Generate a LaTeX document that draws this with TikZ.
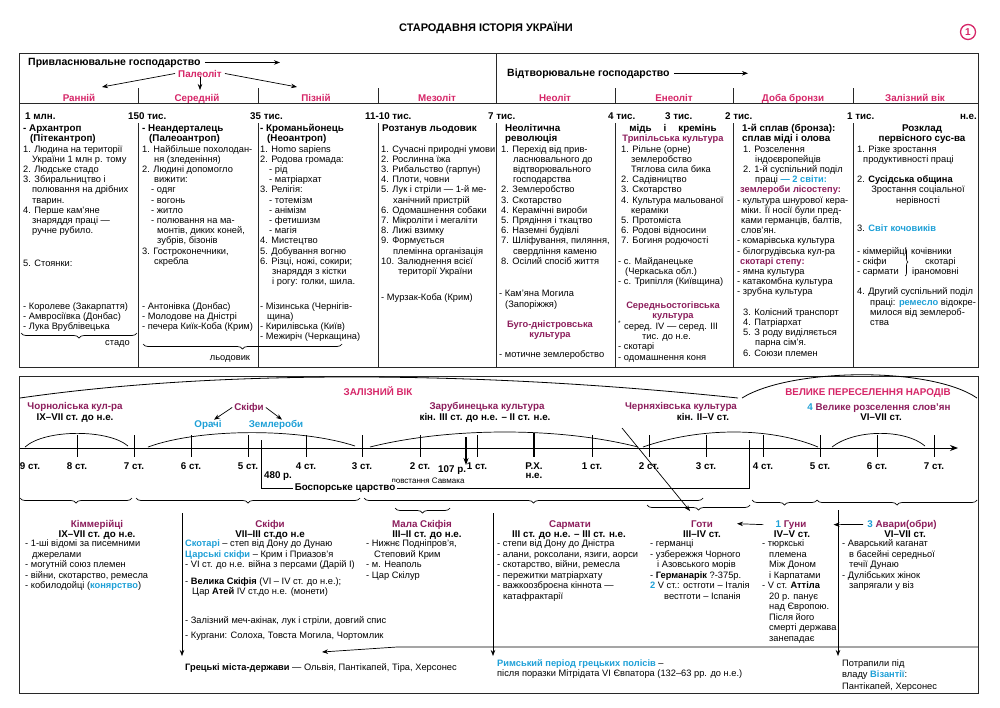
\documentclass[tikz,border=0pt]{standalone}
\usepackage{fontspec}
\setmainfont{Liberation Sans}
\usetikzlibrary{arrows.meta,decorations.pathreplacing}
\definecolor{pinkc}{RGB}{214,38,104}
\definecolor{plumc}{RGB}{140,30,92}
\definecolor{cyanc}{RGB}{30,160,215}
\definecolor{linec}{RGB}{40,40,40}
\newcommand\bt{\fontsize{9.3}{10.2}\selectfont}
\newcommand\bbt{\fontsize{9.3}{10.5}\selectfont}
\newcommand\hd{\fontsize{9.8}{10.2}\selectfont\bfseries}
\newcommand\sm{\fontsize{8}{9}\selectfont}
\newcommand\st{\rule{0pt}{7.2pt}}
\newcommand\hs[1]{\hspace*{#1pt}}
\newcommand\cy[1]{\textcolor{cyanc}{\bfseries #1}}
\newcommand\pl[1]{\textcolor{plumc}{\bfseries #1}}
\newcommand\Ty[1]{124.2+10.2*#1}
\newcommand\By[1]{539.2+10.5*#1}
\begin{document}
\begin{tikzpicture}[x=1pt,y=-1pt,
 txt/.style={anchor=north west,inner sep=0pt,align=left,font=\bt},
 ctxt/.style={anchor=north,inner sep=0pt,align=center,font=\bt},
 btxt/.style={anchor=north west,inner sep=0pt,align=left,font=\bbt},
 frame/.style={draw=linec,line width=0.8pt},
 sep/.style={draw=linec,line width=0.7pt},
 per/.style={anchor=base,inner sep=0pt,font=\hd,text=pinkc},
 dat/.style={anchor=base west,inner sep=0pt,font=\hd},
 arr/.style={-{Stealth[length=6pt,width=4.5pt]},line width=0.7pt},
 tk/.style={line width=0.7pt},
 brc/.style={decorate,decoration={brace,mirror,amplitude=5pt},line width=0.7pt},
 tl/.style={anchor=base,inner sep=0pt,font=\hd,text=plumc},
 tlb/.style={anchor=base,inner sep=0pt,font=\hd},
 tc/.style={anchor=base,inner sep=0pt,font=\hd,text=cyanc},
 ticklab/.style={anchor=base,inner sep=0pt,font=\hd},
]
\useasboundingbox (0,0) rectangle (1000,707);
\fill[white] (0,0) rectangle (1000,707);

% ---------- title ----------
\node[font=\fontsize{11}{12}\selectfont\bfseries] (title) at (486,28) {СТАРОДАВНЯ ІСТОРІЯ УКРАЇНИ};
\node[circle,draw=pinkc,line width=1.3pt,text=pinkc,font=\fontsize{10}{10}\selectfont\bfseries,inner sep=0pt,minimum size=15pt] (num) at (968,32) {1};

% ---------- top table frame ----------
\draw[frame] (19,53) rectangle (978,367);
\draw[sep] (19,103) -- (978,103);
\draw[sep] (496,53) -- (496,103);
\foreach \x in {138,258,378,615,733,853} \draw[sep] (\x,88) -- (\x,103);
\foreach \x in {138,258,378,496,615,733,853} \draw[sep] (\x,123) -- (\x,367);

% header row
\node[anchor=base west,inner sep=0pt,font=\fontsize{10.5}{12}\selectfont\bfseries] (hA) at (28,65) {Привласнювальне господарство};
\coordinate (hAe) at (280,61);
\draw[arr] ([xshift=4pt]hA.east) -- (hA.east -| hAe);
\node[anchor=base west,inner sep=0pt,font=\fontsize{10.5}{12}\selectfont\bfseries] (hB) at (507,76) {Відтворювальне господарство};
\coordinate (hBe) at (748,72);
\draw[arr] ([xshift=4pt]hB.east) -- (hB.east -| hBe);

\node[per] (pal) at (200,77) {Палеоліт};
\coordinate (pL) at (102,87);
\coordinate (pM) at (200,90);
\coordinate (pR) at (297,87);
\draw[arr] ([xshift=-3pt]pal.west) -- (pL);
\draw[arr] (pal.south) -- (pM);
\draw[arr] ([xshift=3pt]pal.east) -- (pR);

% periods
\node[per] (p1) at (79,101) {Ранній};
\node[per] (p2) at (197,101) {Середній};
\node[per] (p3) at (316,101) {Пізній};
\node[per] (p4) at (437,101) {Мезоліт};
\node[per] (p5) at (555,101) {Неоліт};
\node[per] (p6) at (674,101) {Енеоліт};
\node[per] (p7) at (793,101) {Доба бронзи};
\node[per] (p8) at (915,101) {Залізний вік};

% dates
\node[dat] (d1) at (25,119) {1 млн.};
\node[dat] (d2) at (128,119) {150 тис.};
\node[dat] (d3) at (250,119) {35 тис.};
\node[dat] (d4) at (365,119) {11-10 тис.};
\node[dat] (d5) at (488,119) {7 тис.};
\node[dat] (d6) at (608,119) {4 тис.};
\node[dat] (d7) at (665,119) {3 тис.};
\node[dat] (d8) at (725,119) {2 тис.};
\node[dat] (d9) at (847,119) {1 тис.};
\node[dat,anchor=base east] (d10) at (977,119) {н.е.};

% column 1
\node[txt] (c1a) at (23,\Ty{0}) {\st{\hd - Архантроп}\\{\hd\hs{7}(Пітекантроп)}\\1. Людина на території\\\hs{9}України 1 млн р. тому\\2. Людське стадо\\3. Збиральництво і\\\hs{9}полювання на дрібних\\\hs{9}тварин.\\4. Перше кам’яне\\\hs{9}знаряддя праці —\\\hs{9}ручне рубило.};
\node[txt] (c1b) at (23,\Ty{13.2}) {\st 5. Стоянки:};
\node[txt] (c1c) at (23,\Ty{17.4}) {\st- Королеве (Закарпаття)\\- Амвросіївка (Донбас)\\- Лука Врублівецька};
\draw[brc] (21,333) -- (137,333);
\node[anchor=base east,inner sep=0pt,font=\bt] (stado) at (130,345) {стадо};

% column 2
\node[txt] (c2a) at (142,\Ty{0}) {\st{\hd - Неандерталець}\\{\hd\hs{7}(Палеоантроп)}\\1. Найбільше похолодан-\\\hs{12}ня (зледеніння)\\2. Людині допомогло\\\hs{12}вижити:\\\hs{9}- одяг\\\hs{9}- вогонь\\\hs{9}- житло\\\hs{9}- полювання на ма-\\\hs{15}монтів, диких коней,\\\hs{15}зубрів, бізонів\\3. Гостроконечники,\\\hs{12}скребла};
\node[txt] (c2b) at (142,\Ty{17.4}) {\st- Антонівка (Донбас)\\- Молодове на Дністрі\\- печера Киїк-Коба (Крим)};
\draw[brc] (143,344) -- (342,344);
\node[anchor=base,inner sep=0pt,font=\bt] (lod) at (230,360) {льодовик};

% column 3
\node[txt] (c3a) at (260,\Ty{0}) {\st{\hd - Кроманьйонець}\\{\hd\hs{7}(Неоантроп)}\\1. Homo sapiens\\2. Родова громада:\\\hs{9}- рід\\\hs{9}- матріархат\\3. Релігія:\\\hs{9}- тотемізм\\\hs{9}- анімізм\\\hs{9}- фетишизм\\\hs{9}- магія\\4. Мистецтво\\5. Добування вогню\\6. Різці, ножі, сокири;\\\hs{12}знаряддя з кістки\\\hs{12}і рогу: голки, шила.};
\node[txt] (c3b) at (260,\Ty{17.4}) {\st- Мізинська (Чернігів-\\\hs{7}щина)\\- Кирилівська (Київ)\\- Межиріч (Черкащина)};

% column 4
\node[txt] (c4a) at (382,\Ty{0}) {\st{\hd Розтанув льодовик}};
\node[txt] (c4b) at (381,\Ty{2}) {\st 1. Сучасні природні умови\\2. Рослинна їжа\\3. Рибальство (гарпун)\\4. Плоти, човни\\5. Лук і стріли — 1-й ме-\\\hs{12}ханічний пристрій\\6. Одомашнення собаки\\7. Мікроліти і мегаліти\\8. Лижі взимку\\9. Формується\\\hs{12}племінна організація\\10. Залюднення всієї\\\hs{17}території України};
\node[txt] (c4c) at (381,\Ty{16.6}) {\st- Мурзак-Коба (Крим)};

% column 5
\node[txt] (c5a) at (505,\Ty{0}) {\st{\hd Неолітична}\\{\hd революція}};
\node[txt] (c5b) at (501,\Ty{2}) {\st 1. Перехід від прив-\\\hs{12}ласнювального до\\\hs{12}відтворювального\\\hs{12}господарства\\2. Землеробство\\3. Скотарство\\4. Керамічні вироби\\5. Прядіння і ткацтво\\6. Наземні будівлі\\7. Шліфування, пиляння,\\\hs{12}свердління каменю\\8. Осілий спосіб життя};
\node[txt] (c5c) at (499,\Ty{16.2}) {\st- Кам’яна Могила\\\hs{6}(Запоріжжя)};
\node[ctxt] (c5d) at (550,\Ty{19.2}) {\st\pl{Буго-дністровська}\\\pl{культура}};
\node[txt] (c5e) at (499,\Ty{22.1}) {\st- мотичне землеробство};

% column 6
\node[ctxt] (c6a) at (673,\Ty{0}) {\st{\hd мідь\hspace{12pt}і\hspace{12pt}кремінь}\\\pl{Трипільська культура}};
\node[txt] (c6b) at (618,\Ty{2}) {\st\hs{3}1. Рільне (орне)\\\hs{13}землеробство\\\hs{13}Тяглова сила бика\\\hs{3}2. Садівництво\\\hs{3}3. Скотарство\\\hs{3}4. Культура мальованої\\\hs{13}кераміки\\\hs{3}5. Протоміста\\\hs{3}6. Родові відносини\\\hs{3}7. Богиня родючості};
\node[txt] (c6c) at (618,\Ty{13}) {\st- с. Майданецьке\\\hs{7}(Черкаська обл.)\\- с. Трипілля (Київщина)};
\node[ctxt] (c6d) at (673,\Ty{17.3}) {\st\pl{Середньостогівська}\\\pl{культура}};
\node[txt] (c6e) at (618,\Ty{19.3}) {\st\textsuperscript{*}\hs{3}серед. IV — серед. III\\\hs{24}тис. до н.е.\\- скотарі\\- одомашнення коня};

% column 7
\node[txt] (c7a) at (737,\Ty{0}) {\st\hs{5}{\hd 1-й сплав (бронза):}\\\hs{5}{\hd сплав міді і олова}\\\hs{6}1. Розселення\\\hs{18}індоєвропейців\\\hs{6}2. 1-й суспільний поділ\\\hs{18}праці \cy{— 2 світи:}\\\hs{3}\pl{землероби лісостепу:}\\- культура шнурової кера-\\\hs{4}міки. Її носії були пред-\\\hs{4}ками германців, балтів,\\\hs{4}слов’ян.\\- комарівська культура\\- білогрудівська кул-ра\\\hs{3}\pl{скотарі степу:}\\- ямна культура\\- катакомбна культура\\- зрубна культура};
\node[txt] (c7b) at (737,\Ty{18}) {\st\hs{6}3. Колісний транспорт\\\hs{6}4. Патріархат\\\hs{6}5. З роду виділяється\\\hs{18}парна сім’я.\\\hs{6}6. Союзи племен};

% column 8
\node[ctxt] (c8a) at (922,\Ty{0}) {\st{\hd Розклад}\\{\hd первісного сус-ва}};
\node[txt] (c8b) at (857,\Ty{2}) {\st 1. Різке зростання\\\hs{6}продуктивності праці};
\node[txt] (c8c) at (857,\Ty{5}) {\st 2. {\bfseries Сусідська община}};
\node[ctxt] (c8d) at (918,\Ty{6}) {\st Зростання соціальної\\нерівності};
\node[txt] (c8e) at (857,\Ty{9.8}) {\st 3. \cy{Світ кочовиків}};
\node[txt] (c8f) at (857,\Ty{12}) {\st- кіммерійці\\- скіфи\\- сармати};
\node[txt] (c8g) at (911,\Ty{12}) {\st кочівники};
\node[txt] (c8h) at (925,\Ty{13}) {\st скотарі};
\node[txt] (c8i) at (912,\Ty{14}) {\st іраномовні};
\draw[decorate,decoration={brace,amplitude=3pt},line width=0.6pt] (905,248) -- (905,276);
\node[txt] (c8j) at (857,\Ty{16}) {\st 4. Другий суспільний поділ\\\hs{13}праці: \cy{ремесло} відокре-\\\hs{13}милося від землероб-\\\hs{13}ства};

% ---------- bottom frame ----------
\draw[frame] (19,376) rectangle (978,693);
\draw[line width=0.8pt] (20,398) .. controls (200,372) and (450,368) .. (738,398);
\draw[line width=0.8pt] (742,398) .. controls (790,368) and (930,366) .. (977,398);
\node[anchor=base,inner sep=0pt,font=\hd,text=pinkc] (zv) at (378,395) {ЗАЛІЗНИЙ ВІК};
\node[anchor=base,inner sep=0pt,font=\hd,text=pinkc] (vpn) at (868,395) {ВЕЛИКЕ ПЕРЕСЕЛЕННЯ НАРОДІВ};

% timeline headings
\node[tl] (chorn) at (75,409) {Чорноліська кул-ра};
\node[tlb] (chornd) at (75,420) {IX–VII ст. до н.е.};
\node[tl] (skif) at (249,410) {Скіфи};
\node[tc] (orachi) at (208,427) {Орачі};
\node[tc] (zeml) at (276,427) {Землероби};
\draw[arr] ([xshift=-2pt]skif.west) -- ([xshift=6pt]orachi.north);
\draw[arr] ([xshift=2pt]skif.east) -- ([xshift=6pt]zeml.north);
\node[tl] (zar) at (487,409) {Зарубинецька культура};
\node[tlb] (zard) at (485,420) {кін. III ст. до н.е. – II ст. н.е.};
\node[tl] (chern) at (681,409) {Черняхівська культура};
\node[tlb] (chernd) at (703,420) {кін. II–V ст.};
\node[tl] (slov) at (879,410) {\textcolor{cyanc}{4} Велике розселення слов’ян};
\node[tlb] (slovd) at (881,420) {VI–VII ст.};

% arcs over the axis
\draw[tk] (25,447) .. controls (45,429) and (108,429) .. (128,446);
\draw[tk] (148,447) .. controls (200,428) and (300,428) .. (355,446);
\draw[tk] (370,447) .. controls (450,427) and (560,427) .. (638,447);
\draw[tk] (643,447) .. controls (700,427) and (770,427) .. (818,447);
\draw[tk] (832,447) .. controls (855,429) and (905,429) .. (925,446);

% axis
\coordinate (ax0) at (20,448);
\coordinate (ax1) at (958,448);
\draw[-{Stealth[length=8pt,width=6pt]},line width=0.8pt] (ax0) -- (ax1);
\foreach \x/\lab [count=\k] in {77/8,134/7,191/6,248/5,306/4,362/3,420/2,477/1,592/1,649/2,706/3,763/4,820/5,877/6,934/7} {
  \draw[tk] (\x,435) -- (\x,457);
  \node[ticklab] (tk\k) at (\x,469) {\lab\ ст.};
}
\node[ticklab] (tk0) at (30,469) {9 ст.};
\draw[line width=2pt] (534,433) -- (534,457);
\node[ticklab] (rx) at (534,469) {Р.Х.};
\node[ticklab] (rxne) at (534,478) {н.е.};
\node[anchor=base west,inner sep=0pt,font=\hd] (y107) at (438,472) {107 р.};
\coordinate (a107a) at (466,437);
\coordinate (a107b) at (466,465);
\draw[-{Stealth[length=7pt,width=5pt]},line width=1.2pt] (a107a) -- (a107b);
\node[anchor=base,inner sep=0pt,font=\sm] (savm) at (428,483) {повстання Савмака};
\node[anchor=base,inner sep=0pt,font=\hd] (y480) at (278,478) {480 р.};
\draw[line width=0.8pt] (261,440) -- (261,488) -- (749,488) -- (749,440);
\node[fill=white,inner sep=1.5pt,font=\hd] (bosp) at (345,488) {Боспорське царство};
\coordinate (dg0) at (622,428);
\coordinate (dg1) at (690,511);
\draw[arr] (dg0) -- (dg1);

% braces
\draw[brc] (20,498) -- (132,498);
\draw[brc] (136,498) -- (360,498);
\draw[brc] (364,498) -- (703,498);
\draw[brc] (395,508) -- (450,508);
\draw[brc] (647,505) -- (750,505);
\draw[brc] (752,500) -- (817,500);
\draw[brc] (817,500) -- (977,500);

% bottom columns
\node[tl] (kim) at (97,527) {Кіммерійці};
\node[tlb] (kimd) at (97,537.5) {IX–VII ст. до н.е.};
\node[btxt] (kiml) at (25,\By{0}) {\st- 1-ші відомі за писемними\\\hs{7}джерелами\\- могутній союз племен\\- війни, скотарство, ремесла\\- кобилодойці (\cy{конярство})};

\node[tl] (sk) at (270,527) {Скіфи};
\node[tlb] (skd) at (270,537.5) {VII–III ст.до н.е};
\node[btxt] (skl) at (185,\By{0}) {\st\cy{Скотарі} – степ від Дону до Дунаю\\\cy{Царські скіфи} – Крим і Приазов’я\\- VI ст. до н.е. війна з персами (Дарій І)\\[6pt]- {\bfseries Велика Скіфія} (VI – IV ст. до н.е.);\\\hs{7}Цар {\bfseries Атей} IV ст.до н.е. (монети)\\[18pt]- Залізний меч-акінак, лук і стріли, довгий спис\\[5pt]- Кургани: Солоха, Товста Могила, Чортомлик};

\node[tl] (ms) at (422,527) {Мала Скіфія};
\node[tlb] (msd) at (427,537.5) {III–II ст. до н.е.};
\node[btxt] (msl) at (366,\By{0}) {\st- Нижнє Подніпров’я,\\\hs{8}Степовий Крим\\- м. Неаполь\\- Цар Скілур};

\node[tl] (sar) at (570,527) {Сармати};
\node[tlb] (sard) at (569,537.5) {III ст. до н.е. – III ст. н.е.};
\node[btxt] (sarl) at (497,\By{0}) {\st- степи від Дону до Дністра\\- алани, роксолани, язиги, аорси\\- скотарство, війни, ремесла\\- пережитки матріархату\\- важкоозброєна кіннота —\\\hs{6}катафрактарії};

\node[tl] (got) at (702,527) {Готи};
\node[tlb] (gotd) at (702,537.5) {III–IV ст.};
\node[btxt] (gotl) at (650,\By{0}) {\st- германці\\- узбережжя Чорного\\\hs{7}і Азовського морів\\- {\bfseries Германарік} ?-375р.\\\cy{2} V ст.: остготи – Італія\\\hs{14}вестготи – Іспанія};

\node[tl] (hun) at (791,527) {\textcolor{cyanc}{1} Гуни};
\node[tlb] (hund) at (792,537.5) {IV–V ст.};
\node[btxt] (hunl) at (762,\By{0}) {\st- тюркські\\\hs{7}племена\\\hs{7}Між Доном\\\hs{7}і Карпатами\\- V ст. {\bfseries Аттіла}\\\hs{7}20 р. панує\\\hs{7}над Європою.\\\hs{7}Після його\\\hs{7}смерті держава\\\hs{7}занепадає};

\node[tl] (av) at (902,527) {\textcolor{cyanc}{3} Авари(обри)};
\node[tlb] (avd) at (905,537.5) {VI–VII ст.};
\node[btxt] (avl) at (842,\By{0}) {\st- Аварський каганат\\\hs{7}в басейні середньої\\\hs{7}течії Дунаю\\- Дулібських жінок\\\hs{7}запрягали у віз};

\draw[arr] ([xshift=-12pt]hun.west) -- ([xshift=24pt]got.east);
\draw[arr] ([xshift=-4pt]av.west) -- ([xshift=27pt]hun.east);

% vertical arrows
\coordinate (v1a) at (182,513); \coordinate (v1b) at (182,656);
\coordinate (v2a) at (493,513); \coordinate (v2b) at (493,656);
\coordinate (v3a) at (838,510); \coordinate (v3b) at (838,656);
\draw[arr] (v1a) -- (v1b);
\draw[arr] (v2a) -- (v2b);
\draw[arr] (v3a) -- (v3b);

% bottom row
\coordinate (gA) at (978,647);
\coordinate (gB) at (397,647);
\coordinate (gC) at (322,652);
\draw[arr] (gA) -- (gB) -- (gC);
\node[anchor=base west,inner sep=0pt,font=\bbt] (gr) at (185,670) {{\bfseries Грецькі міста-держави} — Ольвія, Пантікапей, Тіра, Херсонес};
\node[btxt] (rim) at (497,659) {\st\cy{Римський період грецьких полісів} –\\після поразки Мітрідата VI Євпатора (132–63 рр. до н.е.)};
\node[btxt] (viz) at (842,659) {\st Потрапили під\\[1pt]владу \cy{Візантії}:\\[1pt]Пантікапей, Херсонес};
\end{tikzpicture}
\end{document}
